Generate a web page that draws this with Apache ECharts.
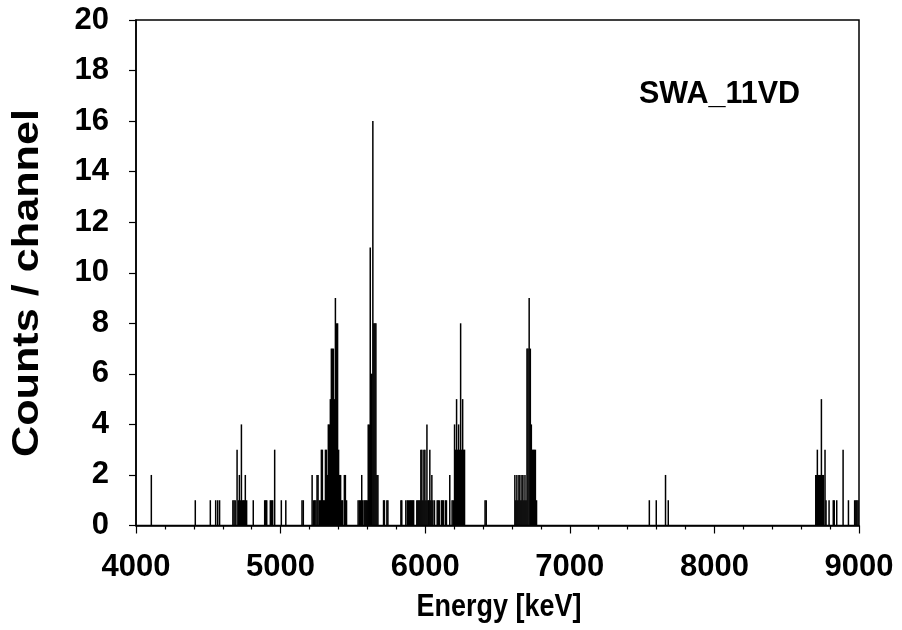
<!DOCTYPE html>
<html>
<head>
<meta charset="utf-8">
<script src="https://cdn.jsdelivr.net/npm/echarts@6/dist/echarts.min.js"></script>
<style>html,body{margin:0;padding:0;background:#fff}#c{width:902px;height:630px}</style>
</head>
<body>
<div id="c"></div>
<script>
// Channel energies (keV) and counts per channel
const energies = [
 4106, 4410, 4514, 4551, 4565, 4578,
 4670, 4678, 4686, 4699, 4708, 4715, 4722, 4729, 4737, 4744, 4750, 4756, 4765, 4811,
 4890, 4897, 4904, 4929, 4937, 4945, 4959, 5005, 5036, 5148, 5157,
 5218, 5229, 5236, 5244, 5252, 5259, 5268, 5276, 5282, 5289, 5296, 5303, 5310, 5317, 5324,
 5330, 5337, 5344, 5351, 5358, 5365, 5372, 5379, 5387, 5394, 5401, 5408, 5415, 5422, 5429, 5441, 5448, 5456,
 5536, 5545, 5552, 5561, 5568, 5578, 5585, 5592, 5599, 5606, 5613, 5620, 5627, 5631, 5638, 5645, 5652, 5659, 5666, 5673,
 5712, 5718, 5735, 5742, 5832, 5838, 5866, 5877, 5884, 5893, 5900, 5907, 5914, 5920,
 5942, 5949, 5956, 5963, 5970, 5977, 5984, 5991, 5998, 6005, 6012, 6019, 6025, 6032, 6039, 6046, 6053, 6064,
 6083, 6090, 6097, 6112, 6119, 6126, 6140, 6147, 6170, 6186, 6194,
 6203, 6210, 6217, 6224, 6231, 6238, 6245, 6252, 6259, 6266, 6272,
 6414, 6422,
 6620, 6627, 6634, 6641, 6648, 6655, 6662, 6669, 6676, 6683, 6690, 6697,
 6704, 6711, 6719, 6727, 6734, 6741, 6748, 6755, 6762, 6770,
 7550, 7598, 7662, 7681,
 8701, 8708, 8712, 8719, 8726, 8733, 8740, 8747, 8754, 8765, 8772, 8793, 8822, 8829, 8846, 8890, 8927, 8970, 8978, 8985, 8993
];
const counts = [
 2, 1, 1, 1, 1, 1,
 1, 1, 1, 3, 1, 2, 1, 4, 1, 1, 1, 2, 1, 1,
 1, 1, 1, 1, 1, 1, 3, 1, 1, 1, 1,
 2, 1, 1, 1, 2, 2, 1, 1, 3, 3, 1, 1, 3, 3, 2,
 4, 4, 5, 7, 7, 7, 5, 9, 8, 8, 3, 2, 2, 1, 1, 2, 2, 1,
 1, 1, 1, 2, 1, 1, 1, 1, 1, 4, 4, 11, 6, 6, 16, 8, 8, 8, 2, 2,
 1, 1, 1, 1, 1, 1, 1, 1, 1, 1, 1, 1, 1, 1,
 1, 1, 1, 1, 3, 3, 1, 3, 3, 1, 4, 1, 1, 3, 1, 2, 1, 1,
 1, 1, 1, 1, 1, 1, 1, 1, 2, 1, 1,
 4, 3, 5, 3, 4, 3, 8, 3, 5, 3, 3,
 1, 1,
 2, 1, 2, 1, 2, 2, 1, 2, 2, 1, 2, 1,
 7, 7, 9, 7, 4, 3, 3, 3, 3, 1,
 1, 1, 2, 1,
 2, 2, 3, 2, 2, 2, 5, 2, 2, 3, 1, 1, 1, 1, 1, 3, 1, 1, 1, 1, 1
];
const xTicks = [4000, 5000, 6000, 7000, 8000, 9000];
const yTicks = [0, 2, 4, 6, 8, 10, 12, 14, 16, 18, 20];
const xTitle = 'Energy [keV]';
const yTitle = 'Counts / channel';
const label = 'SWA_11VD';

const FONT = 'Liberation Sans, Arial, sans-serif';
const chart = echarts.init(document.getElementById('c'), null, {renderer: 'canvas'});
chart.setOption({
  animation: false,
  backgroundColor: '#fff',
  grid: {left: 136, right: 43, top: 20, bottom: 104.5, show: true, borderColor: '#000', borderWidth: 1.5, backgroundColor: 'transparent'},
  xAxis: {
    type: 'value', min: xTicks[0], max: xTicks[xTicks.length - 1], interval: 1000,
    axisLine: {show: true, lineStyle: {color: '#000', width: 1.5}},
    axisTick: {show: true, inside: false, length: 8, lineStyle: {color: '#000', width: 1.2}},
    minorTick: {show: true, splitNumber: 5, length: 4, lineStyle: {color: '#000', width: 1.2}},
    splitLine: {show: false},
    axisLabel: {margin: 26, fontFamily: FONT, fontWeight: 'bold', fontSize: 31, color: '#000',
      formatter: v => String(v)}
  },
  yAxis: {
    type: 'value', min: yTicks[0], max: yTicks[yTicks.length - 1], interval: 2,
    axisLine: {show: true, lineStyle: {color: '#000', width: 1.5}},
    axisTick: {show: true, inside: false, length: 7, lineStyle: {color: '#000', width: 1.2}},
    splitLine: {show: false},
    axisLabel: {margin: 27, fontFamily: FONT, fontWeight: 'bold', fontSize: 31, color: '#000',
      formatter: v => String(v)}
  },
  graphic: [
    {type: 'text', left: 639, top: 79,
     style: {text: label, font: 'bold 30.5px ' + FONT, fill: '#000'}},
    {type: 'text', x: 499, y: 607, scaleY: 1.15,
     style: {text: xTitle, font: 'bold 27px ' + FONT, fill: '#000', align: 'center', verticalAlign: 'middle'}},
    {type: 'text', x: 28, y: 283, rotation: Math.PI / 2, scaleX: 1.2,
     style: {text: yTitle, font: 'bold 36px ' + FONT, fill: '#000', align: 'center', verticalAlign: 'middle'}}
  ],
  series: [{
    type: 'bar',
    data: energies.map((e, i) => [e, counts[i]]),
    barWidth: 1.5,
    itemStyle: {color: '#000'}
  }]
});
</script>
</body>
</html>
